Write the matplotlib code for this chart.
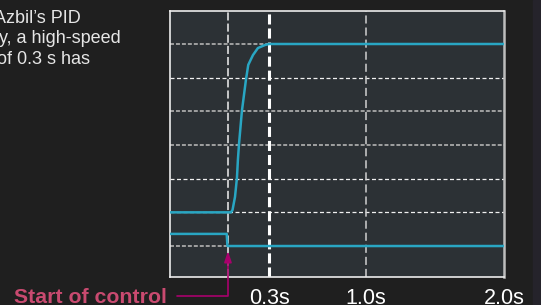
import matplotlib
matplotlib.use("Agg")
import matplotlib.pyplot as plt
from matplotlib.patches import Rectangle

plt.rcParams['font.family'] = ['Liberation Sans', 'DejaVu Sans']

# scope trace: time in s, height in grid divisions
pv_t = [-0.42, 0.022, 0.033, 0.051, 0.065, 0.072, 0.080, 0.101, 0.130,
        0.147, 0.181, 0.217, 0.268, 0.297, 2.0]
pv_y = [2.0, 2.0, 2.07, 2.46, 3.02, 3.56, 4.03, 5.01, 5.93,
        6.38, 6.67, 6.88, 6.97, 7.0, 7.0]

out_t = [-0.42, -0.009, -0.004, 2.0]
out_y = [1.36, 1.36, 1.0, 1.0]

tick_pos = [0.3, 1.0, 2.0]
tick_labels = ["0.3s", "1.0s", "2.0s"]
start_t = 0.0
start_label = "Start of control"
grey_rows = [1, 4, 5, 7]
white_rows = [2, 3, 6]

intro_lines = ["Azbil\u2019s PID", "y, a high-speed", "of 0.3 s has"]

W, H = 541, 305
fig = plt.figure(figsize=(W / 100, H / 100), dpi=100, facecolor="#1f1f1f")
fig.patches.append(Rectangle((533 / W, 0), 8 / W, 1, transform=fig.transFigure,
                             color="#25232b", zorder=-1))

ax = fig.add_axes([170 / W, 28 / H, 334 / W, 266 / H])
ax.set_facecolor("#2c3135")
ax.set_xlim(-0.42, 2.0)
ax.set_ylim(0.08, 7.98)

# horizontal graticule: two kinds of dashed rows
ax.set_yticks(grey_rows)
ax.set_yticks(white_rows, minor=True)
ax.yaxis.grid(True, which="major", color="#a9a9a9", lw=1.3, ls=(0, (2.2, 1.1)))
ax.yaxis.grid(True, which="minor", color="#f0f0f0", lw=0.9, ls=(0, (3.2, 2.0)))
ax.tick_params(axis="y", which="both", length=0, labelleft=False)

ax.axvline(start_t, color="#f0f0f0", lw=1.1, ls=(0, (5.3, 2.0)))
ax.axvline(tick_pos[0], color="#ffffff", lw=2.2, ls=(0, (3.3, 1.3)))
ax.axvline(tick_pos[1], color="#d0d0d0", lw=1.1, ls=(0, (5.3, 2.6)))

ax.plot(pv_t, pv_y, color="#29a6c3", lw=1.8, zorder=3)
ax.plot(out_t, out_y, color="#29a6c3", lw=1.8, zorder=3)

ax.set_xticks(tick_pos, tick_labels)
ax.tick_params(axis="x", length=0, pad=8, labelsize=15.5, colors="white")

for side in ["top", "left", "bottom"]:
    ax.spines[side].set_color("#ececec")
    ax.spines[side].set_linewidth(1.2)
ax.spines["right"].set_color("#bdbdbd")
ax.spines["right"].set_linewidth(1.8)

fig.text(14 / W, 1.7 / H, start_label, fontsize=15.3, fontweight="bold",
         color="#c94a70", va="baseline", ha="left")
ax.annotate("", xy=(start_t, 0.85), xycoords="data",
            xytext=(176.7, H - 295.7), textcoords="figure pixels",
            arrowprops=dict(arrowstyle="-|>,head_length=0.65,head_width=0.22",
                            connectionstyle="angle,angleA=0,angleB=90,rad=0",
                            color="#a8006c", lw=1.2, shrinkA=0, shrinkB=0,
                            mutation_scale=10),
            annotation_clip=False)

baselines = [22.7, 43.3, 64.3]
starts = [-6, -1, -3]
for txt, x0, yb in zip(intro_lines, starts, baselines):
    fig.text(x0 / W, 1 - yb / H, txt, fontsize=13, color="#e6e6e6",
             va="baseline", ha="left")

fig.savefig("out.png", dpi=100, facecolor=fig.get_facecolor())
